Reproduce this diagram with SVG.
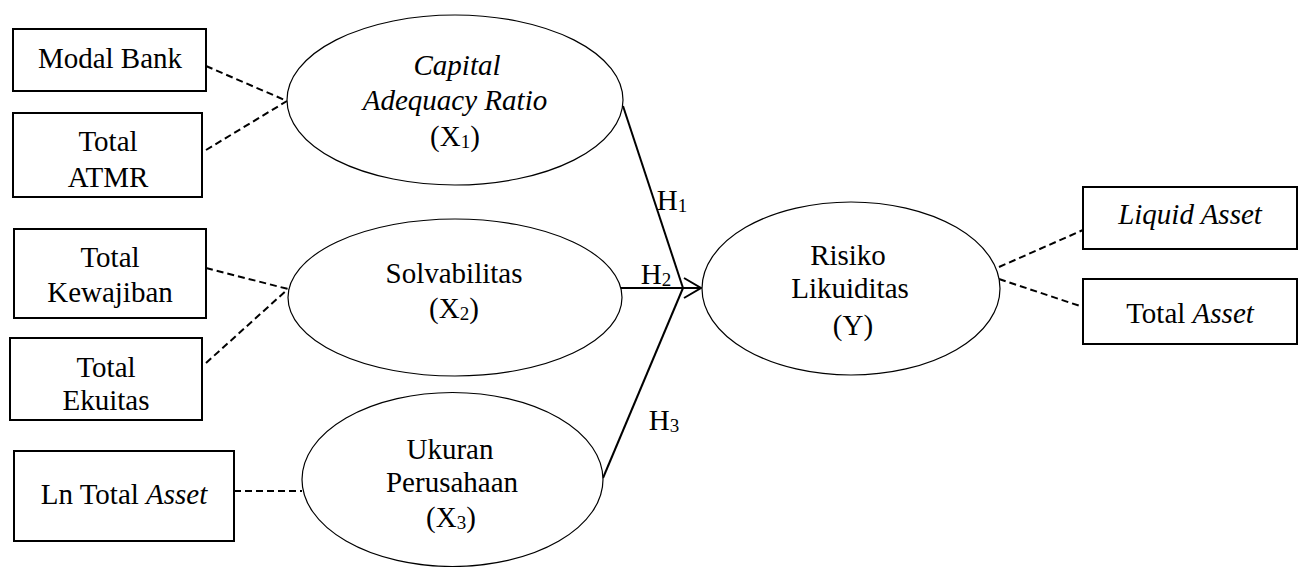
<svg xmlns="http://www.w3.org/2000/svg" width="1302" height="567" viewBox="0 0 1302 567">
<style>
text{font-family:"Liberation Serif","Times New Roman",serif;font-size:29px;fill:#000;text-anchor:middle}
.it{font-style:italic}
.sub{font-size:19px}
.box{fill:#fff;stroke:#000;stroke-width:2}
.ell{fill:#fff;stroke:#000;stroke-width:1.2}
.dash{fill:none;stroke:#000;stroke-width:2;stroke-dasharray:7 4}
.path{fill:none;stroke:#000;stroke-width:2}
</style>
<defs>
<marker id="arr" viewBox="0 0 20 24" refX="18" refY="12" markerWidth="20" markerHeight="24" markerUnits="userSpaceOnUse" orient="auto">
<path d="M1,2 L18,12 L1,22" fill="none" stroke="#000" stroke-width="2"/>
</marker>
</defs>
<g id="connectors">
<line class="dash" x1="206" y1="66" x2="287" y2="101"/>
<line class="dash" x1="206" y1="150" x2="287" y2="101"/>
<line class="dash" x1="206" y1="268" x2="288" y2="289"/>
<line class="dash" x1="206" y1="363" x2="288" y2="289"/>
<line class="dash" x1="234" y1="491" x2="302" y2="491"/>
<line class="dash" x1="999" y1="267" x2="1083" y2="230"/>
<line class="dash" x1="999" y1="279" x2="1083" y2="307"/>
<line class="path" x1="623" y1="106" x2="683" y2="288"/>
<line class="path" x1="603" y1="478" x2="683" y2="288"/>
<line class="path" x1="621" y1="288" x2="701" y2="288" marker-end="url(#arr)"/>
<text x="672" y="210">H<tspan class="sub" dy="2">1</tspan></text>
<text x="656" y="284">H<tspan class="sub" dy="2">2</tspan></text>
<text x="664" y="430">H<tspan class="sub" dy="2">3</tspan></text>
</g>
<g id="modal-bank">
<rect class="box" x="13" y="29" width="193" height="62"/>
<text x="110" y="68">Modal Bank</text>
</g>
<g id="total-atmr">
<rect class="box" x="13" y="113" width="189" height="84"/>
<text x="108" y="151">Total</text>
<text x="108" y="187">ATMR</text>
</g>
<g id="total-kewajiban">
<rect class="box" x="14" y="229" width="192" height="89"/>
<text x="110" y="267">Total</text>
<text x="110" y="302">Kewajiban</text>
</g>
<g id="total-ekuitas">
<rect class="box" x="10" y="338" width="192" height="82"/>
<text x="106" y="377">Total</text>
<text x="106" y="410">Ekuitas</text>
</g>
<g id="ln-total-asset">
<rect class="box" x="14" y="451" width="220" height="90"/>
<text x="124" y="504">Ln Total <tspan class="it">Asset</tspan></text>
</g>
<g id="car">
<ellipse class="ell" cx="455" cy="100" rx="168" ry="85"/>
<text class="it" x="457" y="75">Capital</text>
<text class="it" x="455" y="110">Adequacy Ratio</text>
<text x="455" y="146">(X<tspan class="sub" dy="2">1</tspan><tspan dy="-2">)</tspan></text>
</g>
<g id="solvabilitas">
<ellipse class="ell" cx="455" cy="297.5" rx="167" ry="78.5"/>
<text x="454" y="283">Solvabilitas</text>
<text x="454" y="318">(X<tspan class="sub" dy="2">2</tspan><tspan dy="-2">)</tspan></text>
</g>
<g id="ukuran">
<ellipse class="ell" cx="452.5" cy="479.5" rx="150.5" ry="87"/>
<text x="450" y="459">Ukuran</text>
<text x="452" y="492">Perusahaan</text>
<text x="451" y="527">(X<tspan class="sub" dy="2">3</tspan><tspan dy="-2">)</tspan></text>
</g>
<g id="risiko">
<ellipse class="ell" cx="851" cy="288.5" rx="149" ry="86.5"/>
<text x="848" y="265">Risiko</text>
<text x="850" y="298">Likuiditas</text>
<text x="853" y="335">(Y)</text>
</g>
<g id="liquid-asset">
<rect class="box" x="1083" y="187" width="214" height="62"/>
<text class="it" x="1190" y="224">Liquid Asset</text>
</g>
<g id="total-asset">
<rect class="box" x="1083" y="279" width="214" height="65"/>
<text x="1190" y="323">Total <tspan class="it">Asset</tspan></text>
</g>
</svg>
